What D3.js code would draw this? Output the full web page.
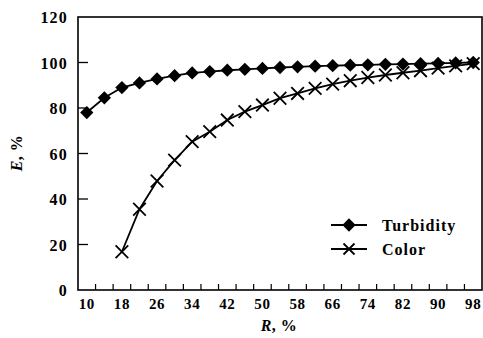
<!DOCTYPE html>
<html><head><meta charset="utf-8">
<script src="https://cdn.jsdelivr.net/npm/d3@7/dist/d3.min.js"></script>
<style>
body{margin:0;background:#fff;}
svg{display:block;}
</style></head>
<body><svg id="c" width="483" height="338"></svg>
<script>
const categories = [10,14,18,22,26,30,34,38,42,46,50,54,58,62,66,70,74,78,82,86,90,94,98];
const turbidity = [78,84.5,89,91,92.8,94.2,95.4,96,96.6,97,97.4,97.8,98.1,98.4,98.6,98.8,99,99.2,99.3,99.5,99.6,99.8,100];
const color = [null,null,16.8,35.5,47.9,57.1,65.2,69.6,74.7,78.4,81.3,84.3,86.4,88.6,90.5,92,93.4,94.5,95.5,96.4,97.5,98.5,99.5];
const xTickLabels = [10,18,26,34,42,50,58,66,74,82,90,98];
const yTicks = [0,20,40,60,80,100,120];
const seriesNames = ["Turbidity","Color"];

const FONT = "'Liberation Serif', 'Times New Roman', 'DejaVu Serif', serif";
const svg = d3.select("#c");
const L=78, R=482, T=17, B=290;
const x = d3.scaleBand().domain(categories).range([L,R]).padding(0);
const bw = x.bandwidth();
const cx = c => x(c)+bw/2;
const y = d3.scaleLinear().domain([0,120]).range([B,T]);

// frame
svg.append("rect").attr("x",L).attr("y",T).attr("width",R-L).attr("height",B-T)
  .attr("fill","none").attr("stroke","#000").attr("stroke-width",1.6);

function styleText(sel, size, ls){
  sel.style("font-family",FONT).style("font-weight","bold").style("font-size",size+"px")
     .style("letter-spacing",(ls||0)+"px").attr("fill","#000");
}

// y axis
const yAxis = d3.axisLeft(y).tickValues(yTicks).tickSize(0).tickPadding(10);
const gy = svg.append("g").attr("transform",`translate(${L},0)`).call(yAxis);
gy.attr("font-family",null);
gy.select(".domain").remove();
styleText(gy.selectAll("text"),16,1.2);
gy.selectAll("text").attr("dy","0.35em");
svg.append("g").selectAll("line").data(yTicks.slice(1,-1)).join("line")
  .attr("x1",L).attr("x2",L+10).attr("y1",d=>y(d)).attr("y2",d=>y(d))
  .attr("stroke","#000").attr("stroke-width",1.3);

// x axis labels
const xAxis = d3.axisBottom(x).tickValues(xTickLabels).tickSize(0).tickPadding(8);
const gx = svg.append("g").attr("transform",`translate(0,${B})`).call(xAxis);
gx.attr("font-family",null);
gx.select(".domain").remove();
styleText(gx.selectAll("text"),15,0.6);
// x tick marks at band boundaries
svg.append("g").selectAll("line").data(categories.slice(1)).join("line")
  .attr("x1",d=>x(d)).attr("x2",d=>x(d)).attr("y1",B).attr("y2",B-6)
  .attr("stroke","#000").attr("stroke-width",1.2);

// axis titles
const yt = svg.append("text").attr("transform","translate(22,153) rotate(-90)")
  .attr("text-anchor","middle");
styleText(yt,16,0.5);
yt.append("tspan").style("font-style","italic").text("E");
yt.append("tspan").text(", %");
const xt = svg.append("text").attr("x",279).attr("y",331).attr("text-anchor","middle");
styleText(xt,16,0.5);
xt.append("tspan").style("font-style","italic").text("R");
xt.append("tspan").text(", %");

// lines
const line = d3.line().defined(d=>d.v!=null).x(d=>cx(d.c)).y(d=>y(d.v));
const tData = categories.map((c,i)=>({c, v:turbidity[i]}));
const cData = categories.map((c,i)=>({c, v:color[i]})).filter(d=>d.v!=null);
svg.append("path").datum(cData).attr("d",line).attr("fill","none").attr("stroke","#000").attr("stroke-width",1.8);
svg.append("path").datum(tData).attr("d",line).attr("fill","none").attr("stroke","#000").attr("stroke-width",1.8);

const diamond = d3.symbol().type(d3.symbolSquare).size(88);
const cross = (s)=>`M${-s},${-s}L${s},${s}M${-s},${s}L${s},${-s}`;

svg.append("g").selectAll("path").data(cData).join("path")
  .attr("transform",d=>`translate(${cx(d.c)},${y(d.v)})`)
  .attr("d",cross(6.3)).attr("stroke","#000").attr("stroke-width",1.8).attr("fill","none");
svg.append("g").selectAll("path").data(tData).join("path")
  .attr("transform",d=>`translate(${cx(d.c)},${y(d.v)}) rotate(45)`)
  .attr("d",diamond).attr("fill","#000");

// legend
const lg = svg.append("g");
const ly = [225,249];
seriesNames.forEach((n,i)=>{
  lg.append("line").attr("x1",331).attr("x2",367).attr("y1",ly[i]).attr("y2",ly[i])
    .attr("stroke","#000").attr("stroke-width",1.8);
  if(i===0){
    lg.append("path").attr("transform",`translate(349,${ly[i]}) rotate(45)`).attr("d",diamond).attr("fill","#000");
  } else {
    lg.append("path").attr("transform",`translate(349,${ly[i]})`).attr("d",cross(5.5))
      .attr("stroke","#000").attr("stroke-width",1.8);
  }
  const t = lg.append("text").attr("x",382).attr("y",ly[i]).attr("dy","0.35em").text(n);
  styleText(t,16,1);
});
</script></body></html>
